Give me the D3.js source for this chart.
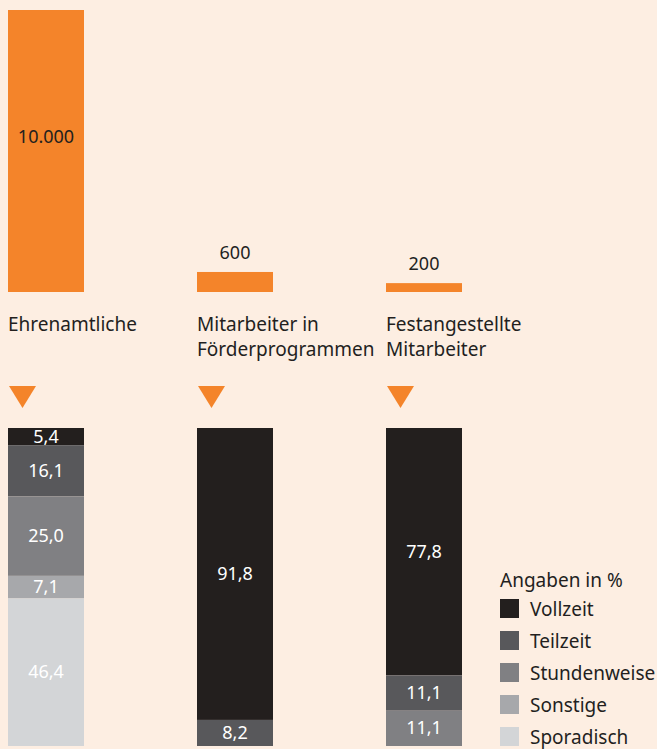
<!DOCTYPE html>
<html>
<head>
<meta charset="utf-8">
<script src="https://cdn.jsdelivr.net/npm/d3@7"></script>
<style>
  html, body { margin: 0; padding: 0; background: #fdeee2; }
  svg { display: block; }
  text { font-family: "Noto Sans", sans-serif; }
</style>
</head>
<body>
<div id="chart"></div>
<script>
// data
const categories = ["Ehrenamtliche", "Mitarbeiter in Förderprogrammen", "Festangestellte Mitarbeiter"];
const labelLines = [["Ehrenamtliche"], ["Mitarbeiter in", "Förderprogrammen"], ["Festangestellte", "Mitarbeiter"]];
const headcount = [10000, 600, 200];
const headcountLabels = ["10.000", "600", "200"];
const seriesNames = ["Vollzeit", "Teilzeit", "Stundenweise", "Sonstige", "Sporadisch"];
const vollzeit = [5.4, 91.8, 77.8];
const teilzeit = [16.1, 8.2, 11.1];
const stundenweise = [25.0, 0, 11.1];
const sonstige = [7.1, 0, 0];
const sporadisch = [46.4, 0, 0];
const seriesColors = ["#231f1e", "#58585b", "#808083", "#a7a8ab", "#d3d5d7"];

const width = 657, height = 749;
const orange = "#f4842a";
const dark = "#231f1e";
const textSize = 19;
const numSize = 18;

const svg = d3.select("#chart").append("svg")
  .attr("width", width)
  .attr("height", height);

svg.append("rect").attr("width", width).attr("height", height).attr("fill", "#fdeee2");

const x = d3.scaleBand()
  .domain(categories)
  .range([8, 462])
  .paddingInner(113 / 189)
  .paddingOuter(0);

// top bars (headcount), baseline at 292
const base = 292;
const yTop = d3.scaleLinear().domain([0, 10000]).range([base - 3.3, 10]);

const topBars = svg.append("g");
topBars.selectAll("rect")
  .data(categories)
  .join("rect")
  .attr("x", d => x(d))
  .attr("y", (d, i) => yTop(headcount[i]))
  .attr("width", x.bandwidth())
  .attr("height", (d, i) => base - yTop(headcount[i]))
  .attr("fill", orange);

topBars.selectAll("text")
  .data(categories)
  .join("text")
  .attr("x", d => x(d) + x.bandwidth() / 2)
  .attr("y", (d, i) => i === 0 ? yTop(headcount[i]) + 133 : yTop(headcount[i]) - 13)
  .attr("text-anchor", "middle")
  .attr("font-size", numSize)
  .attr("fill", dark)
  .text((d, i) => headcountLabels[i]);

// category labels
const labels = svg.append("g");
categories.forEach((c, i) => {
  const t = labels.append("text")
    .attr("x", x(c))
    .attr("y", 331)
    .attr("font-size", textSize)
    .attr("fill", dark);
  labelLines[i].forEach((line, j) => {
    t.append("tspan").attr("x", x(c)).attr("dy", j === 0 ? 0 : 25).text(line);
  });
});

// triangles
svg.append("g").selectAll("path")
  .data(categories)
  .join("path")
  .attr("d", d => {
    const x0 = x(d) + 1;
    return `M${x0},386L${x0 + 27},386L${x0 + 13.5},408Z`;
  })
  .attr("fill", orange);

// stacked percentage bars
const table = categories.map((c, i) => ({
  cat: c,
  Vollzeit: vollzeit[i],
  Teilzeit: teilzeit[i],
  Stundenweise: stundenweise[i],
  Sonstige: sonstige[i],
  Sporadisch: sporadisch[i]
}));

const stack = d3.stack().keys(seriesNames)(table);
const yPct = d3.scaleLinear().domain([0, 100]).range([428, 746]);
const color = d3.scaleOrdinal().domain(seriesNames).range(seriesColors);

const layers = svg.append("g").selectAll("g")
  .data(stack)
  .join("g")
  .attr("fill", d => color(d.key));

layers.selectAll("rect")
  .data(d => d.filter(s => s[1] - s[0] > 0))
  .join("rect")
  .attr("x", d => x(d.data.cat))
  .attr("y", d => yPct(d[0]))
  .attr("width", x.bandwidth())
  .attr("height", d => yPct(d[1]) - yPct(d[0]));

layers.selectAll("text")
  .data(d => d.filter(s => s[1] - s[0] > 0))
  .join("text")
  .attr("x", d => x(d.data.cat) + x.bandwidth() / 2)
  .attr("y", d => (yPct(d[0]) + yPct(d[1])) / 2 + 6)
  .attr("text-anchor", "middle")
  .attr("font-size", numSize)
  .attr("fill", "#ffffff")
  .text(d => d3.format(".1f")(d[1] - d[0]).replace(".", ","));

// legend
const legend = svg.append("g").attr("transform", "translate(500,0)");
legend.append("text")
  .attr("x", 0)
  .attr("y", 587)
  .attr("font-size", textSize)
  .attr("fill", dark)
  .text("Angaben in %");

const rows = legend.selectAll("g.row")
  .data(seriesNames)
  .join("g")
  .attr("class", "row")
  .attr("transform", (d, i) => `translate(0,${599 + i * 32})`);

rows.append("rect")
  .attr("width", 19)
  .attr("height", 19)
  .attr("fill", d => color(d));

rows.append("text")
  .attr("x", 30)
  .attr("y", 17)
  .attr("font-size", textSize)
  .attr("fill", dark)
  .text(d => d);
</script>
</body>
</html>
